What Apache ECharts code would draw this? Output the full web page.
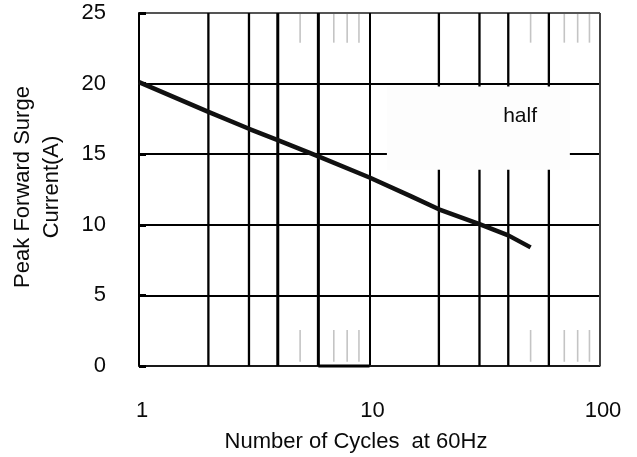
<!DOCTYPE html>
<html><head><meta charset="utf-8">
<script src="https://cdn.jsdelivr.net/npm/echarts@6/dist/echarts.min.js"></script>
<style>html,body{margin:0;padding:0;background:#fff}#c{width:637px;height:457px}</style>
</head><body><div id="c"></div>
<script>
// ---- data ----
const cycles = [1, 2, 3, 4, 6, 10, 15, 20, 30, 40, 50];
const current = [20.1, 18.0, 16.8, 16.0, 14.85, 13.35, 12.05, 11.1, 10.05, 9.25, 8.4];
const majorGrid = [2, 3, 4, 6, 20, 30, 40, 60];
const minorGrid = [5, 7, 8, 9, 50, 70, 80, 90];
const xTickLabels = ['1', '10', '100'];
const yTickLabels = ['0', '5', '10', '15', '20', '25'];
const xName = 'Number of Cycles  at 60Hz';
const yName = ['Peak Forward Surge', 'Current(A)'];
const noteText = 'half';

// ---- styles ----
const FONT = 'Liberation Sans, Arial, sans-serif';
const FS = 22;
const thick = {4: 3, 6: 3};
const chart = echarts.init(document.getElementById('c'));
chart.setOption({
  animation: false,
  grid: {left: 139, right: 37, top: 13, bottom: 91, show: false},
  xAxis: {
    type: 'log', logBase: 10, min: 1, max: 100,
    axisLine: {show: true, lineStyle: {color: '#222', width: 1.5}},
    axisTick: {show: false},
    splitLine: {show: true, lineStyle: {color: ['#000', '#000', '#444'], width: 2}},
    axisLabel: {margin: 34, fontSize: FS, color: '#0a0a0a', fontFamily: FONT, padding: [0, 0, 0, 6],
      formatter: v => xTickLabels.find(t => Number(t) === v) || ''}
  },
  yAxis: {
    type: 'value', min: 0, max: 25, interval: 5,
    axisLine: {show: true, lineStyle: {color: '#000', width: 2}},
    axisTick: {show: true, inside: true, length: 7, lineStyle: {color: '#000', width: 3}},
    splitLine: {show: true, lineStyle: {color: ['#000', '#000', '#000', '#000', '#000', '#555'], width: 2}},
    axisLabel: {margin: 33, fontSize: FS, color: '#0a0a0a', fontFamily: FONT,
      formatter: v => yTickLabels[Math.round(v / 5)]}
  },
  graphic: [
    {type: 'text', x: 356, y: 442, style: {text: xName, fontSize: FS, fill: '#0a0a0a', fontFamily: FONT, textAlign: 'center', textVerticalAlign: 'middle'}},
    {type: 'text', x: 23, y: 187, rotation: Math.PI / 2, style: {text: yName[0], fontSize: FS, fill: '#0a0a0a', fontFamily: FONT, textAlign: 'center', textVerticalAlign: 'middle'}},
    {type: 'text', x: 52, y: 187, rotation: Math.PI / 2, style: {text: yName[1], fontSize: FS, fill: '#0a0a0a', fontFamily: FONT, textAlign: 'center', textVerticalAlign: 'middle'}}
  ],
  series: [
    {
      type: 'custom', z: 1, silent: true,
      data: majorGrid.map(v => [v, 1]).concat(minorGrid.map(v => [v, 0])),
      renderItem: (params, api) => {
        const x = api.value(0), major = api.value(1);
        const top = api.coord([x, 25]), bot = api.coord([x, 0]);
        if (major) {
          return {type: 'line', shape: {x1: top[0], y1: top[1], x2: bot[0], y2: bot[1]},
            style: {stroke: '#000', lineWidth: thick[x] || 2.3}};
        }
        const t2 = api.coord([x, 22.9]), b1 = api.coord([x, 2.55]), b2 = api.coord([x, 0.3]);
        return {type: 'group', children: [
          {type: 'line', shape: {x1: top[0], y1: top[1] + 1, x2: t2[0], y2: t2[1]}, style: {stroke: '#c4c4c4', lineWidth: 1.6}},
          {type: 'line', shape: {x1: b1[0], y1: b1[1], x2: b2[0], y2: b2[1]}, style: {stroke: '#c4c4c4', lineWidth: 1.6}}
        ]};
      }
    },
    {
      type: 'custom', z: 2, silent: true,
      data: [[1]],
      renderItem: (params, api) => {
        const r = api.coord([100, 25]), rb = api.coord([100, 0]);
        const s1 = api.coord([6, 0]), s2 = api.coord([10, 0]);
        const b1 = api.coord([11.9, 19.8]), b2 = api.coord([74, 13.9]);
        const tp = api.coord([45, 17.7]);
        return {type: 'group', children: [
          {type: 'line', shape: {x1: r[0], y1: r[1], x2: rb[0], y2: rb[1]}, style: {stroke: '#444', lineWidth: 1.5}},
          {type: 'line', shape: {x1: s1[0], y1: s1[1], x2: s2[0], y2: s2[1]}, style: {stroke: '#000', lineWidth: 3}},
          {type: 'rect', shape: {x: b1[0], y: b1[1], width: b2[0] - b1[0], height: b2[1] - b1[1]}, style: {fill: '#fdfdfd'}},
          {type: 'text', x: tp[0], y: tp[1], style: {text: noteText, fontSize: 21, fill: '#0a0a0a', fontFamily: FONT, textAlign: 'center', textVerticalAlign: 'middle'}}
        ]};
      }
    },
    {
      type: 'line', z: 4, showSymbol: false, smooth: false,
      data: cycles.map((c, i) => [c, current[i]]),
      lineStyle: {color: '#111', width: 4.5}
    }
  ]
});
</script></body></html>
